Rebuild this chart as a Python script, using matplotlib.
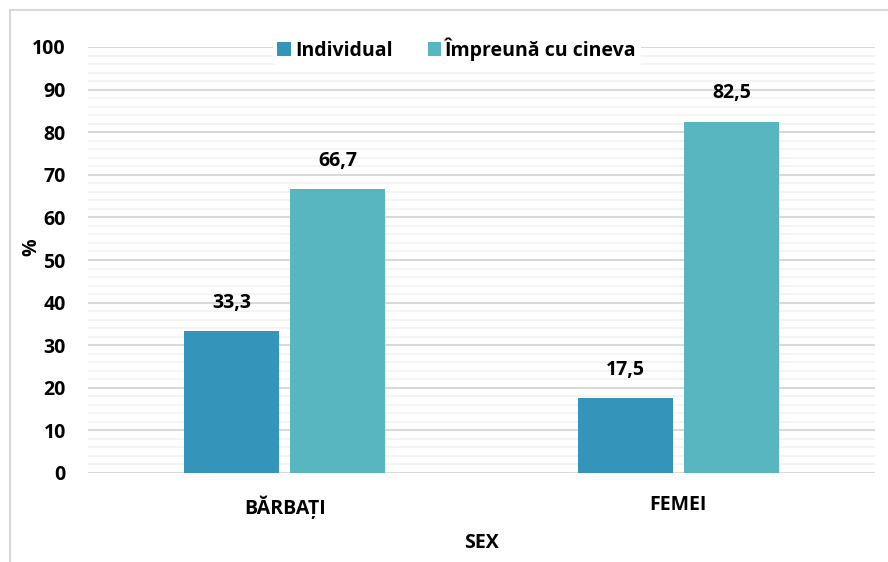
import matplotlib
matplotlib.use("Agg")
import matplotlib.pyplot as plt
import numpy as np
from matplotlib.ticker import MultipleLocator
from matplotlib.lines import Line2D

categories = ["BĂRBAȚI", "FEMEI"]
series_names = ["Individual", "Împreună cu cineva"]
individual = [33.3, 17.5]
impreuna = [66.7, 82.5]
yticks = [0, 10, 20, 30, 40, 50, 60, 70, 80, 90, 100]

colors = ["#3494BA", "#58B6C0"]
plt.rcParams["font.family"] = ["Open Sans", "DejaVu Sans"]
plt.rcParams["font.weight"] = "bold"
FS = 14

W, H = 888, 562
fig = plt.figure(figsize=(W / 100, H / 100), dpi=100)
ax = fig.add_axes([88 / W, 1 - 473 / H, (875 - 88) / W, (473 - 47) / H])

# chart-area border (top and left edges visible)
fig.add_artist(Line2D([10 / W, 1], [1 - 10 / H, 1 - 10 / H], color="#D9D9D9", lw=1.5, transform=fig.transFigure))
fig.add_artist(Line2D([10 / W, 10 / W], [1 - 10 / H, 0], color="#D9D9D9", lw=1.5, transform=fig.transFigure))

x = np.arange(len(categories))
bw = 0.242
gap = 0.028
off = (bw + gap) / 2
b1 = ax.bar(x - off, individual, bw, color=colors[0], label=series_names[0], zorder=3)
b2 = ax.bar(x + off, impreuna, bw, color=colors[1], label=series_names[1], zorder=3)

for bars, vals in ((b1, individual), (b2, impreuna)):
    for r, v in zip(bars, vals):
        ax.annotate(f"{v:.1f}".replace(".", ","), (r.get_x() + r.get_width() / 2, v),
                    xytext=(0, 13), textcoords="offset points", ha="center", va="bottom",
                    fontsize=FS, fontweight="bold", color="black")

ax.set_xlim(-0.5, 1.5)
ax.set_ylim(0, 100)
ax.set_yticks(yticks)
ax.yaxis.set_minor_locator(MultipleLocator(2))
ax.grid(axis="y", which="major", color="#D9D9D9", lw=1.5, zorder=0)
ax.grid(axis="y", which="minor", color="#F2F2F2", lw=1.2, zorder=0)
ax.set_axisbelow(True)
ax.tick_params(axis="both", which="both", length=0, labelsize=FS)
ax.tick_params(axis="y", pad=16)
ax.tick_params(axis="x", pad=16)
ax.set_xticks(x)
ax.set_xticklabels(categories, fontweight="bold")
for lab in ax.get_yticklabels():
    lab.set_fontweight("bold")
for s in ax.spines.values():
    s.set_visible(False)

fig.text(481 / W, 1 - 543 / H, "SEX", fontsize=FS, fontweight="bold", ha="center", va="center")
fig.text(31 / W, 1 - 247 / H, "%", fontsize=FS, fontweight="bold", ha="center", va="center", rotation=90)

leg = ax.legend(loc="upper center", bbox_to_anchor=((457 - 88) / 787, 1.055), ncol=2, frameon=True,
                fontsize=FS, handlelength=0.7, handleheight=0.7, handletextpad=0.2,
                columnspacing=1.8, borderpad=0.2)
leg.get_frame().set_facecolor("white")
leg.get_frame().set_edgecolor("none")
leg.get_frame().set_alpha(1)
for t in leg.get_texts():
    t.set_fontweight("bold")

fig.savefig("out.png", dpi=100)
